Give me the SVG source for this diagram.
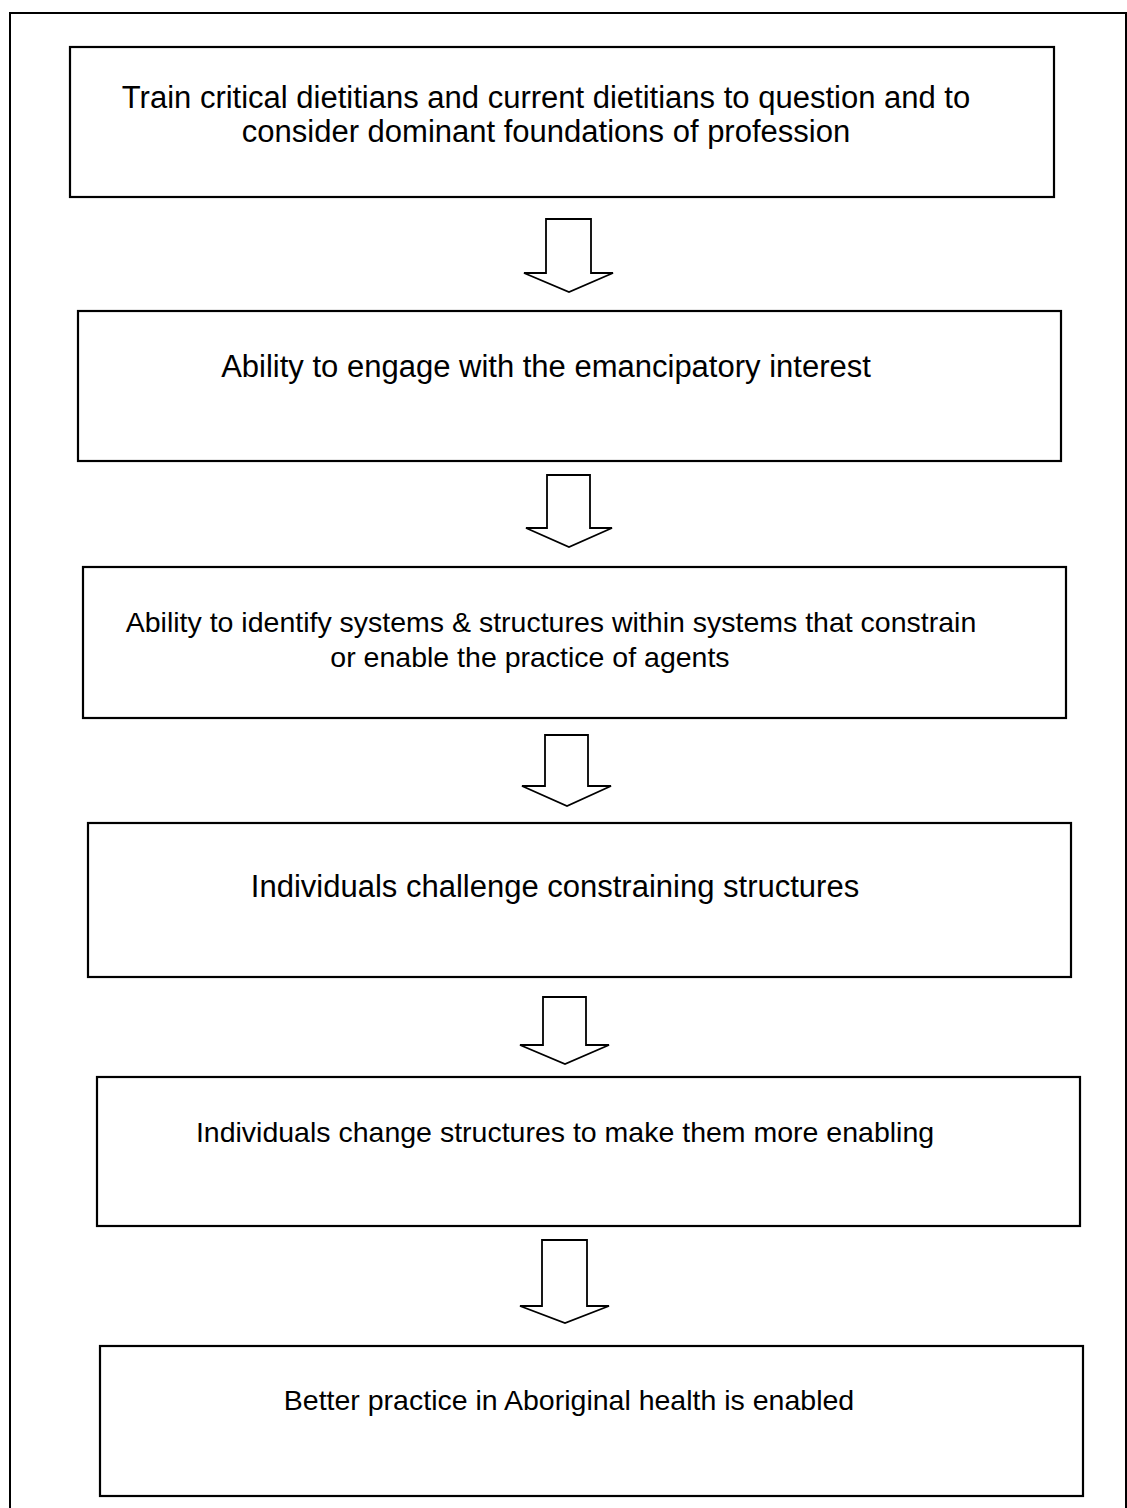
<svg xmlns="http://www.w3.org/2000/svg" width="1127" height="1508" viewBox="0 0 1127 1508">
  <style>
    .frame { fill: none; stroke: #000; stroke-width: 2; }
    .box { fill: #fff; stroke: #000; stroke-width: 2.2; }
    .arrow { fill: #fff; stroke: #000; stroke-width: 1.8; stroke-linejoin: miter; }
    .label { font-family: "Liberation Sans", Arial, sans-serif; font-size: 31px; fill: #000; text-anchor: middle; }
    .small { font-size: 28.5px; }
  </style>
  <rect width="1127" height="1508" fill="#fff"/>
  <!-- outer page frame, open at the bottom -->
  <path class="frame" d="M10,1508 V13 H1126 V1508"/>

  <g id="step1">
    <rect class="box" x="70" y="47" width="984" height="150"/>
    <text class="label" x="546" y="108">Train critical dietitians and current dietitians to question and to</text>
    <text class="label" x="546" y="142">consider dominant foundations of profession</text>
  </g>
  <g id="step2">
    <rect class="box" x="78" y="311" width="983" height="150"/>
    <text class="label" x="546" y="377">Ability to engage with the emancipatory interest</text>
  </g>
  <g id="step3">
    <rect class="box" x="83" y="567" width="983" height="151"/>
    <text class="label small" x="551" y="632">Ability to identify systems &amp; structures within systems that constrain</text>
    <text class="label small" x="530" y="667">or enable the practice of agents</text>
  </g>
  <g id="step4">
    <rect class="box" x="88" y="823" width="983" height="154"/>
    <text class="label" x="555" y="897">Individuals challenge constraining structures</text>
  </g>
  <g id="step5">
    <rect class="box" x="97" y="1077" width="983" height="149"/>
    <text class="label small" x="565" y="1142">Individuals change structures to make them more enabling</text>
  </g>
  <g id="step6">
    <rect class="box" x="100" y="1346" width="983" height="150"/>
    <text class="label small" x="569" y="1410">Better practice in Aboriginal health is enabled</text>
  </g>

  <g id="connectors">
    <path class="arrow" d="M546,219 H591 V273 H613 L569,292 L524,273 H546 Z"/>
    <path class="arrow" d="M547,475 H590 V528 H612 L569,547 L526,528 H547 Z"/>
    <path class="arrow" d="M545,735 H588 V786 H611 L567,806 L522,786 H545 Z"/>
    <path class="arrow" d="M543,997 H586 V1045 H609 L565,1064 L520,1045 H543 Z"/>
    <path class="arrow" d="M542,1240 H587 V1306 H609 L565,1323 L520,1306 H542 Z"/>
  </g>
</svg>
